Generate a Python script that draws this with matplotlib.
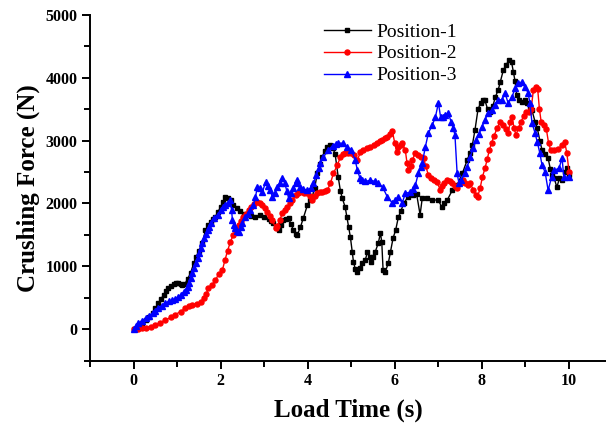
import matplotlib
matplotlib.use('Agg')
import matplotlib.pyplot as plt
from matplotlib.ticker import MultipleLocator

# Position-1 (black squares)
t1 = [0.00, 0.10, 0.20, 0.28, 0.36, 0.44, 0.50, 0.57, 0.63, 0.69, 0.75, 0.80, 0.86, 0.92, 0.97,
      1.03, 1.08, 1.12, 1.18, 1.24, 1.31, 1.38, 1.44, 1.50, 1.58, 1.65, 1.71, 1.77, 1.83, 1.88,
      1.94, 2.00, 2.05, 2.11, 2.17, 2.23, 2.29, 2.37, 2.45, 2.53, 2.61, 2.70, 2.80, 2.90, 3.00,
      3.10, 3.16, 3.21, 3.27, 3.33, 3.38, 3.44, 3.50, 3.56, 3.61, 3.67, 3.72, 3.76, 3.83, 3.90,
      3.99, 4.05, 4.10, 4.16, 4.22, 4.28, 4.33, 4.39, 4.45, 4.52, 4.58, 4.63, 4.70, 4.75, 4.79,
      4.86, 4.90, 4.94, 4.98, 5.02, 5.05, 5.09, 5.13, 5.19, 5.25, 5.32, 5.37, 5.42, 5.46, 5.50,
      5.55, 5.62, 5.67, 5.70, 5.73, 5.78, 5.85, 5.90, 5.96, 6.02, 6.08, 6.14, 6.20, 6.30, 6.42,
      6.50, 6.58, 6.63, 6.74, 6.85, 7.00, 7.08, 7.14, 7.20, 7.32, 7.43, 7.55, 7.66, 7.72, 7.78,
      7.84, 7.91, 7.97, 8.03, 8.07, 8.13, 8.19, 8.25, 8.31, 8.37, 8.42, 8.49, 8.55, 8.62, 8.68,
      8.72, 8.76, 8.80, 8.86, 8.92, 8.98, 9.04, 9.10, 9.15, 9.22, 9.27, 9.33, 9.38, 9.45, 9.52,
      9.57, 9.61, 9.66, 9.72, 9.78, 9.84, 9.91, 9.95, 10.00]
f1 = [0, 40, 100, 150, 200, 260, 330, 410, 480, 540, 610, 655, 690, 715, 730,
      730, 720, 700, 720, 800, 890, 1050, 1150, 1250, 1370, 1570, 1650, 1700, 1750, 1790,
      1870, 1940, 2030, 2100, 2080, 2050, 1970, 1920, 1880, 1840, 1810, 1800, 1780, 1810, 1780,
      1760, 1720, 1690, 1620, 1580, 1650, 1730, 1750, 1770, 1680, 1580, 1520, 1500, 1620, 1770,
      1970, 2050, 2100, 2250, 2480, 2630, 2740, 2830, 2900, 2930, 2880, 2780, 2420, 2200, 2090,
      1940, 1780, 1620, 1460, 1230, 1070, 960, 910, 980, 1050, 1100, 1220, 1150, 1070, 1150,
      1230, 1370, 1530, 1380, 940, 910, 1050, 1230, 1450, 1580, 1780, 1880, 2000, 2100, 2130,
      2150, 1820, 2090, 2090, 2060, 2050, 1940, 2000, 2050, 2210, 2290, 2480, 2690, 2800, 2930,
      3170, 3500, 3600, 3650, 3640, 3500, 3450, 3550, 3700, 3800, 3930, 4120, 4200, 4280, 4250,
      4100, 3950, 3720, 3650, 3620, 3640, 3600, 3540, 3480, 3300, 3200, 3000, 2850, 2780, 2720,
      2550, 2450, 2400, 2260, 2400, 2370, 2500, 2560, 2450]

# Position-2 (red circles)
t2 = [0.00, 0.10, 0.20, 0.28, 0.40, 0.50, 0.60, 0.73, 0.85, 0.96, 1.08, 1.19, 1.27, 1.35, 1.45,
      1.54, 1.61, 1.67, 1.72, 1.80, 1.88, 1.96, 2.04, 2.10, 2.16, 2.22, 2.29, 2.35, 2.41, 2.47,
      2.52, 2.58, 2.64, 2.70, 2.77, 2.84, 2.90, 2.96, 3.02, 3.07, 3.13, 3.19, 3.26, 3.30, 3.36,
      3.42, 3.47, 3.53, 3.59, 3.64, 3.72, 3.78, 3.83, 3.91, 3.99, 4.05, 4.10, 4.16, 4.22, 4.28,
      4.33, 4.40, 4.45, 4.52, 4.59, 4.68, 4.75, 4.80, 4.86, 4.93, 5.00, 5.07, 5.14, 5.21, 5.28,
      5.36, 5.44, 5.52, 5.60, 5.66, 5.71, 5.77, 5.83, 5.88, 5.94, 6.00, 6.04, 6.08, 6.13, 6.17,
      6.24, 6.28, 6.31, 6.36, 6.40, 6.47, 6.54, 6.60, 6.66, 6.71, 6.77, 6.84, 6.90, 6.97, 7.04,
      7.08, 7.14, 7.20, 7.26, 7.32, 7.38, 7.43, 7.50, 7.56, 7.62, 7.68, 7.73, 7.80, 7.86, 7.90,
      7.96, 8.01, 8.07, 8.12, 8.17, 8.22, 8.28, 8.35, 8.42, 8.49, 8.55, 8.60, 8.65, 8.69, 8.74,
      8.78, 8.84, 8.90, 8.96, 9.02, 9.08, 9.13, 9.18, 9.24, 9.28, 9.32, 9.36, 9.42, 9.48, 9.53,
      9.58, 9.66, 9.75, 9.84, 9.90, 9.95, 10.00]
f2 = [0, 5, 10, 16, 40, 64, 100, 143, 185, 230, 280, 330, 360, 380, 400,
      430, 490, 560, 650, 700, 780, 880, 940, 1100, 1250, 1380, 1500, 1600, 1660, 1720,
      1780, 1830, 1890, 1940, 1990, 2020, 2000, 1970, 1920, 1860, 1800, 1730, 1610, 1640, 1740,
      1850, 1900, 1940, 2000, 2050, 2130, 2160, 2180, 2170, 2160, 2120, 2050, 2120, 2160, 2180,
      2180, 2200, 2210, 2320, 2480, 2610, 2740, 2780, 2800, 2800, 2800, 2770, 2690, 2820, 2850,
      2880, 2900, 2930, 2960, 2990, 3010, 3040, 3060, 3100, 3160, 2960, 2820, 2900, 2930, 2960,
      2850, 2640, 2530, 2600, 2690, 2800, 2770, 2740, 2720, 2600, 2450, 2400, 2380, 2340, 2220,
      2280, 2330, 2370, 2350, 2330, 2280, 2250, 2320, 2370, 2330, 2290, 2320, 2220, 2140, 2100,
      2250, 2420, 2560, 2700, 2850, 2960, 3080, 3200, 3300, 3250, 3180, 3120, 3300, 3370, 3200,
      3090, 3200, 3300, 3400, 3450, 3460, 3500, 3800, 3850, 3820, 3500, 3300, 3250, 3180, 2960,
      2850, 2850, 2860, 2930, 2980, 2800, 2500]

# Position-3 (blue triangles)
t3 = [0.00, 0.06, 0.11, 0.20, 0.28, 0.36, 0.44, 0.50, 0.57, 0.65, 0.73, 0.81, 0.89, 0.96, 1.03,
      1.09, 1.15, 1.20, 1.24, 1.28, 1.31, 1.35, 1.38, 1.43, 1.47, 1.50, 1.54, 1.58, 1.61, 1.66,
      1.70, 1.73, 1.77, 1.84, 1.93, 2.00, 2.06, 2.11, 2.16, 2.22, 2.25, 2.27, 2.31, 2.34, 2.38,
      2.41, 2.46, 2.50, 2.57, 2.62, 2.68, 2.75, 2.80, 2.84, 2.90, 2.96, 3.03, 3.09, 3.14, 3.19,
      3.25, 3.30, 3.36, 3.42, 3.47, 3.52, 3.56, 3.62, 3.67, 3.72, 3.76, 3.83, 3.90, 3.99, 4.07,
      4.13, 4.20, 4.25, 4.29, 4.36, 4.47, 4.57, 4.65, 4.70, 4.80, 4.90, 5.00, 5.09, 5.14, 5.20,
      5.25, 5.32, 5.44, 5.55, 5.62, 5.72, 5.83, 5.94, 6.00, 6.08, 6.17, 6.24, 6.35, 6.42, 6.47,
      6.54, 6.60, 6.63, 6.70, 6.77, 6.86, 6.93, 7.00, 7.05, 7.10, 7.16, 7.23, 7.29, 7.34, 7.38,
      7.43, 7.47, 7.53, 7.60, 7.66, 7.73, 7.80, 7.86, 7.93, 8.00, 8.07, 8.14, 8.22, 8.30, 8.37,
      8.46, 8.53, 8.60, 8.69, 8.76, 8.83, 8.92, 8.99, 9.06, 9.10, 9.15, 9.22, 9.27, 9.33, 9.38,
      9.45, 9.52, 9.60, 9.66, 9.77, 9.84, 9.88, 10.00]
f3 = [0, 50, 95, 135, 175, 215, 255, 295, 335, 375, 414, 440, 462, 485, 510,
      550, 590, 630, 670, 740, 810, 890, 970, 1050, 1130, 1210, 1290, 1370, 1450, 1510,
      1580, 1630, 1690, 1770, 1820, 1890, 1940, 1980, 2010, 2050, 1900, 1740, 1650, 1610, 1560,
      1540, 1620, 1690, 1780, 1840, 1890, 1970, 2100, 2260, 2250, 2180, 2340, 2280, 2210, 2100,
      2170, 2260, 2330, 2410, 2330, 2200, 2090, 2170, 2250, 2330, 2370, 2260, 2230, 2210, 2250,
      2320, 2450, 2560, 2640, 2740, 2850, 2920, 2950, 2960, 2960, 2900, 2850, 2690, 2530, 2400,
      2380, 2350, 2370, 2350, 2320, 2260, 2100, 2010, 2050, 2100, 2010, 2160, 2180, 2230, 2290,
      2480, 2580, 2640, 2900, 3120, 3250, 3370, 3600, 3380, 3380, 3410, 3440, 3300, 3200, 3090,
      2480, 2330, 2370, 2480, 2580, 2740, 2880, 3010, 3100, 3220, 3330, 3440, 3480, 3560, 3650,
      3650, 3760, 3600, 3690, 3840, 3920, 3930, 3850, 3760, 3600, 3280, 3120, 2980, 2800, 2610,
      2500, 2210, 2420, 2530, 2560, 2720, 2420, 2420]

W, H = 606, 423
fig = plt.figure(figsize=(W / 100, H / 100), dpi=100)
ax = fig.add_axes([90 / W, (H - 360.5) / H, (W - 90) / W, 345.5 / H])

serif = ['Liberation Serif', 'DejaVu Serif']

ax.plot(t1, f1, color='black', lw=1, marker='s', ms=3.4, label='Position-1')
ax.plot(t2, f2, color='red', lw=1, marker='o', ms=3.6, label='Position-2')
ax.plot(t3, f3, color='blue', lw=1, marker='^', ms=4.2, label='Position-3')

ax.set_xlim(-1, (W - 133) / 43.6)
ax.set_ylim(-500, 5000)
ax.xaxis.set_major_locator(MultipleLocator(2))
ax.xaxis.set_minor_locator(MultipleLocator(1))
ax.yaxis.set_major_locator(MultipleLocator(1000))
ax.yaxis.set_minor_locator(MultipleLocator(500))

for s in ['top', 'right']:
    ax.spines[s].set_visible(False)
for s in ['left', 'bottom']:
    ax.spines[s].set_linewidth(1.4)

ax.tick_params(which='major', direction='out', length=6, width=1.4, pad=3)
ax.tick_params(which='minor', direction='out', length=4, width=1.4)
for lab in ax.get_xticklabels() + ax.get_yticklabels():
    lab.set_family(serif)
    lab.set_fontweight('bold')
    lab.set_fontsize(11.5)

ax.set_xlabel('Load Time (s)', family=serif, fontweight='bold', fontsize=18, labelpad=7)
ax.set_ylabel('Crushing Force (N)', family=serif, fontweight='bold', fontsize=18, labelpad=4)

ax.legend(loc='upper left', bbox_to_anchor=((324 - 90) / 516, (360.5 - 23) / 345.5),
          frameon=False, prop={'family': serif, 'size': 14}, handlelength=2.4,
          handletextpad=0.3, labelspacing=0.22, borderaxespad=0, borderpad=0,
          numpoints=1)

fig.savefig('out.png', dpi=100)
